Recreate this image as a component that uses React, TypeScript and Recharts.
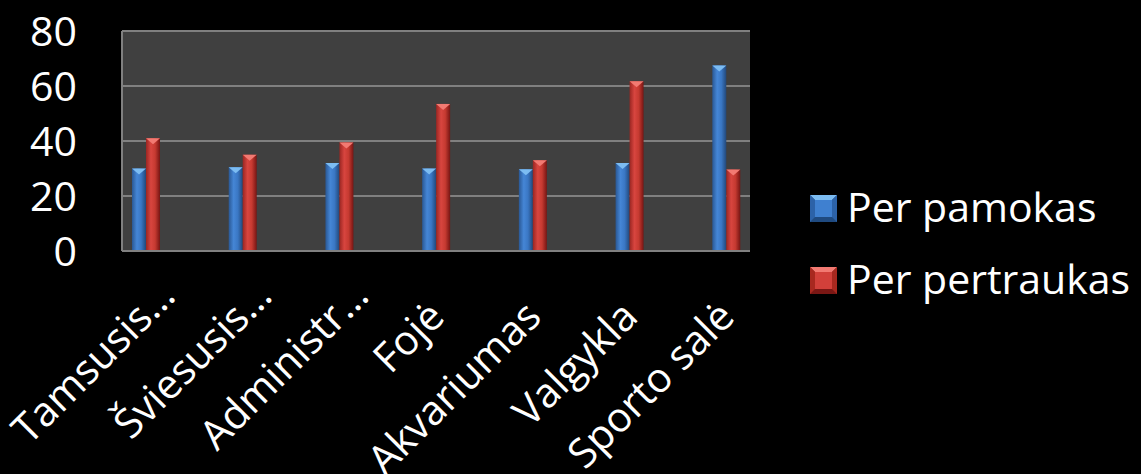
import React from "react";
import { BarChart, Bar, XAxis, YAxis, CartesianGrid, Legend } from "recharts";

const categories = ["Tamsusis…", "Šviesusis…", "Administr…", "Fojė", "Akvariumas", "Valgykla", "Sporto salė"];
const perPamokas = [30, 30.5, 32, 30, 29.7, 32, 67.5];
const perPertraukas = [41, 35, 39.5, 53.5, 33, 61.7, 29.6];
const yTicks = [0, 20, 40, 60, 80];
const seriesNames = ["Per pamokas", "Per pertraukas"];

const data = categories.map((name, i) => ({
  name,
  pamokas: perPamokas[i],
  pertraukas: perPertraukas[i],
}));

const FONT = "'Open Sans', sans-serif";

const BevelBar = (props: any) => {
  const { x, y, width, height, gid, top } = props;
  if (!height || height <= 0) return null;
  const tri = Math.min(6, height);
  return (
    <g>
      <rect x={x} y={y} width={width} height={height} fill={`url(#${gid})`} />
      <polygon
        points={`${x},${y} ${x + width},${y} ${x + width / 2},${y + tri}`}
        fill={top}
      />
    </g>
  );
};

const YTick = (props: any) => {
  const { y, payload } = props;
  return (
    <text x={77} y={y} dy="0.36em" textAnchor="end" fill="#ffffff" fontSize={41} fontFamily={FONT}>
      {payload.value}
    </text>
  );
};

const XTick = (props: any) => {
  const { x, y, payload } = props;
  const label: string = payload.value;
  const trunc = label.endsWith("…");
  const ax = x + (trunc ? 31 : 10);
  const ay = y + (trunc ? 47 : 68);
  return (
    <text
      x={ax}
      y={ay}
      textAnchor="end"
      fill="#ffffff"
      fontSize={41}
      fontFamily={FONT}
      transform={`rotate(-45 ${ax} ${ay})`}
    >
      {label}
    </text>
  );
};

const LegendIcon = ({ x, y, s, light, mid, dark, edge }: any) => (
  <g>
    <rect x={x} y={y} width={s} height={s} fill={dark} />
    <polygon points={`${x},${y} ${x + s},${y} ${x + s - 5},${y + 5} ${x + 5},${y + 5}`} fill={light} />
    <polygon points={`${x},${y} ${x + 5},${y + 5} ${x + 5},${y + s - 5} ${x},${y + s}`} fill={edge} />
    <polygon points={`${x + s},${y} ${x + s - 5},${y + 5} ${x + s - 5},${y + s - 5} ${x + s},${y + s}`} fill={edge} />
    <rect x={x + 5} y={y + 5} width={s - 10} height={s - 10} fill={mid} />
  </g>
);

const legendColors = [
  { light: "#7cbcf2", mid: "#3f80d0", dark: "#1f4a80", edge: "#2c62a8" },
  { light: "#f27a72", mid: "#d2403a", dark: "#7a1714", edge: "#a8281f" },
];

const LegendContent = () => (
  <svg width={331} height={130}>
    {seriesNames.map((n, i) => (
      <g key={n}>
        <LegendIcon x={0} y={15 + i * 72} s={27} {...legendColors[i]} />
        <text x={37} y={42 + i * 72} fill="#ffffff" fontSize={41} fontFamily={FONT}>
          {n}
        </text>
      </g>
    ))}
  </svg>
);

export default function App() {
  return (
    <div style={{ position: "fixed", left: 0, top: 0, width: 1141, height: 474, background: "#000000" }}>
      <BarChart
        width={1141}
        height={474}
        data={data}
        margin={{ top: 31, right: 391, bottom: 0, left: 0 }}
        barGap={0}
        barSize={14}
      >
        <defs>
          <linearGradient id="gBlue" x1="0" y1="0" x2="1" y2="0">
            <stop offset="0" stopColor="#2a5894" />
            <stop offset="0.35" stopColor="#4586d6" />
            <stop offset="0.65" stopColor="#3a77c4" />
            <stop offset="1" stopColor="#22487a" />
          </linearGradient>
          <linearGradient id="gRed" x1="0" y1="0" x2="1" y2="0">
            <stop offset="0" stopColor="#9a2622" />
            <stop offset="0.35" stopColor="#d8453f" />
            <stop offset="0.65" stopColor="#c63a31" />
            <stop offset="1" stopColor="#761513" />
          </linearGradient>
        </defs>
        <CartesianGrid
          horizontal={true}
          vertical={false}
          fill="#404040"
          fillOpacity={1}
          stroke="#808080"
          strokeWidth={2}
        />
        <XAxis
          dataKey="name"
          interval={0}
          padding={{ left: -24, right: -25 }}
          axisLine={{ stroke: "#808080", strokeWidth: 2 }}
          tickLine={false}
          tickSize={0}
          tickMargin={0}
          tick={<XTick />}
          height={223}
        />
        <YAxis
          domain={[0, 80]}
          ticks={yTicks}
          width={122}
          axisLine={{ stroke: "#808080", strokeWidth: 2 }}
          tickLine={false}
          tick={<YTick />}
        />
        <YAxis
          yAxisId="r"
          orientation="right"
          domain={[0, 80]}
          width={0}
          tick={false}
          tickLine={false}
          axisLine={{ stroke: "#808080", strokeWidth: 2 }}
        />
        <Legend
          layout="vertical"
          align="center"
          verticalAlign="middle"
          content={<LegendContent />}
          wrapperStyle={{ position: "absolute", left: 810, top: 180, width: 331, height: 130 }}
        />
        <Bar
          dataKey="pamokas"
          name={seriesNames[0]}
          isAnimationActive={false}
          shape={(p: any) => <BevelBar {...p} gid="gBlue" top="#7cbcf2" />}
        />
        <Bar
          dataKey="pertraukas"
          name={seriesNames[1]}
          isAnimationActive={false}
          shape={(p: any) => <BevelBar {...p} gid="gRed" top="#f27a72" />}
        />
      </BarChart>
    </div>
  );
}
